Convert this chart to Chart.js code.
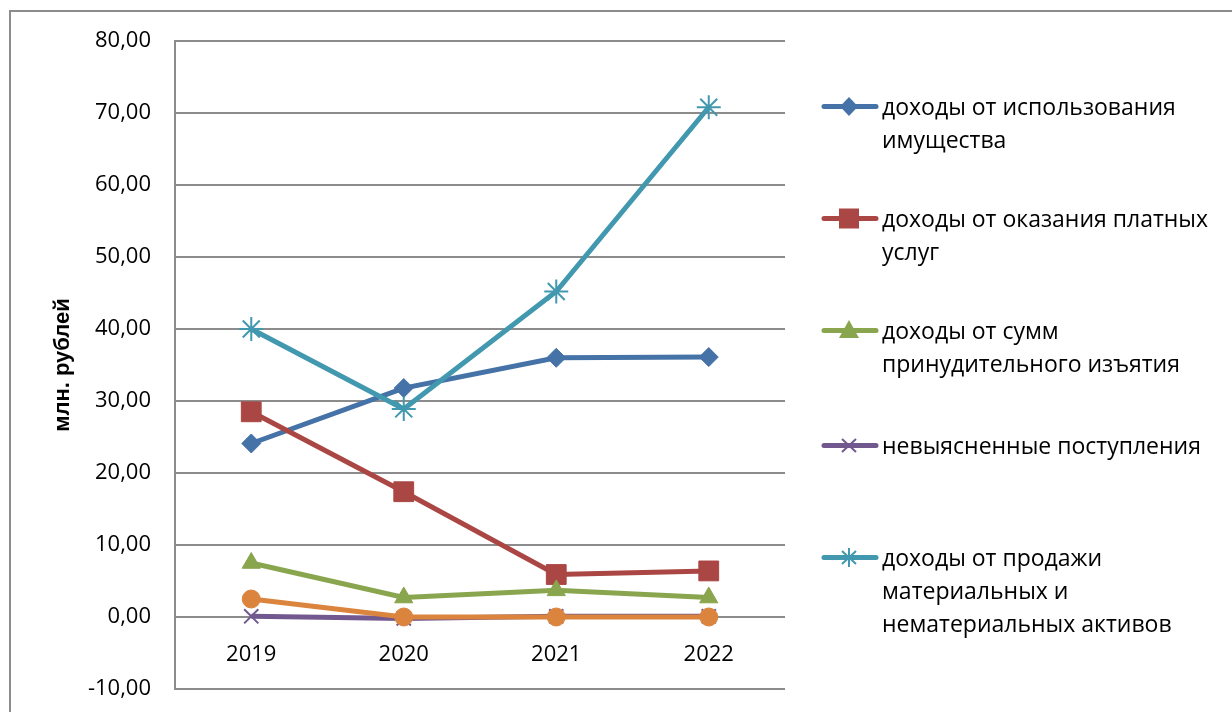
<html>
<head>
  <title></title>
  <style>
    body { margin: 0; background: #fff; }
    #wrap { position: relative; width: 1232px; height: 712px; overflow: hidden; }
    #frame { position: absolute; left: 9px; top: 10px; width: 1300px; height: 800px;
             border-left: 2px solid #8c8c8c; border-top: 2px solid #8c8c8c; }
    #legend { position: absolute; left: 0; top: 0; font-family: "Open Sans", sans-serif;
              font-size: 23px; color: #000; }
    .item { position: absolute; left: 821px; display: flex; align-items: flex-start; width: 410px; }
    .item svg { flex: none; margin-top: 0; }
    .item span { line-height: 33px; margin-left: 3px; white-space: nowrap; }
  </style>
</head>
<body>
<div id="wrap">
  <div id="frame"></div>
  <canvas id="myChart" width="1232" height="712"></canvas>
  <div id="legend"></div>
</div>

<script src="https://cdn.jsdelivr.net/npm/chart.js"></script>

<script>
  const years = ['2019', '2020', '2021', '2022']
  const names = [
    ['доходы от использования', 'имущества'],
    ['доходы  от оказания платных', 'услуг'],
    ['доходы от сумм', 'принудительного изъятия'],
    ['невыясненные поступления'],
    ['доходы от продажи', 'материальных и', 'нематериальных активов'],
    ['прочие']
  ]
  const propertyIncome = [24.1, 31.8, 36.0, 36.1]
  const paidServices = [28.5, 17.4, 5.9, 6.4]
  const forcedSeizure = [7.5, 2.7, 3.7, 2.7]
  const unclear = [0.1, -0.2, 0.1, 0.1]
  const assetSales = [40.0, 28.9, 45.2, 70.8]
  const other = [2.5, 0.0, 0.0, 0.0]
  const yTicks = [-10, 0, 10, 20, 30, 40, 50, 60, 70, 80]

  const colors = ['#4572A7', '#AA4643', '#89A54E', '#71588F', '#4198AF', '#DB843D']
  const shapes = ['rectRot', 'rect', 'triangle', 'crossRot', 'star', 'circle']
  const sizes = [9.5, 14, 10.5, 10, 12, 9]
  const series = [propertyIncome, paidServices, forcedSeizure, unclear, assetSales, other]

  const datasets = series.map((d, i) => {
    const hollow = shapes[i] === 'crossRot' || shapes[i] === 'star'
    return {
      label: names[i].join(' '),
      data: d,
      order: -i,
      borderColor: colors[i],
      backgroundColor: colors[i],
      borderWidth: 5,
      pointStyle: shapes[i],
      pointRadius: sizes[i],
      pointBorderWidth: hollow ? 2 : 1,
      pointBackgroundColor: colors[i],
      pointBorderColor: colors[i],
      tension: 0,
      inLegend: i < 5
    }
  })

  const ctx = document.getElementById('myChart');
  const chart = new Chart(ctx, {
    type: 'line',
    data: { labels: years, datasets: datasets },
    options: {
      responsive: false,
      animation: false,
      layout: { padding: { left: 0, top: 41, right: 447, bottom: 23 } },
      plugins: { legend: { display: false }, tooltip: { enabled: false } },
      scales: {
        x: {
          position: { y: 0 },
          offset: true,
          afterFit: s => { s.height = 0 },
          grid: { display: false },
          border: { display: false },
          ticks: { padding: 17, color: '#000', font: { family: 'Open Sans', size: 22 } }
        },
        y: {
          min: -10,
          max: 80,
          afterFit: s => { s.width = 175; s.paddingTop = 0; s.paddingBottom = 0 },
          afterBuildTicks: s => { s.ticks = yTicks.map(v => ({ value: v })) },
          grid: { color: '#8c8c8c', lineWidth: 2, drawTicks: false },
          border: { color: '#8c8c8c', width: 2 },
          ticks: {
            padding: 24,
            color: '#000',
            font: { family: 'Open Sans', size: 22 },
            callback: v => v.toFixed(2).replace('.', ',')
          },
          title: {
            display: true,
            text: 'млн. рублей',
            color: '#000',
            padding: { top: 50, bottom: 0 },
            font: { family: 'Liberation Sans', size: 22, weight: 'bold' }
          }
        }
      }
    }
  });

  // legend (HTML, from dataset names)
  const legendTops = [90, 202, 314, 429, 541]
  const legend = document.getElementById('legend')
  datasets.forEach((ds, i) => {
    if (!ds.inLegend) return
    const c = colors[i]
    let mark = ''
    if (shapes[i] === 'rectRot') mark = `<polygon points="28,7 37,16.5 28,26 19,16.5" fill="${c}"/>`
    if (shapes[i] === 'rect') mark = `<rect x="18" y="6.5" width="20" height="20" fill="${c}"/>`
    if (shapes[i] === 'triangle') mark = `<polygon points="28,6 38,24 18,24" fill="${c}"/>`
    if (shapes[i] === 'crossRot') mark = `<path d="M21 10 L35 23 M35 10 L21 23" stroke="${c}" stroke-width="2"/>`
    if (shapes[i] === 'star') mark = `<path d="M21 10 L35 23 M35 10 L21 23 M28 7 L28 26" stroke="${c}" stroke-width="2"/>`
    const svg = `<svg width="58" height="33"><line x1="3" y1="16.5" x2="55" y2="16.5" stroke="${c}" stroke-width="5" stroke-linecap="round"/>${mark}</svg>`
    const div = document.createElement('div')
    div.className = 'item'
    div.style.top = legendTops[i] + 'px'
    div.innerHTML = svg + '<span>' + names[i].join('<br>') + '</span>'
    legend.appendChild(div)
  })
</script>

</body>
</html>
